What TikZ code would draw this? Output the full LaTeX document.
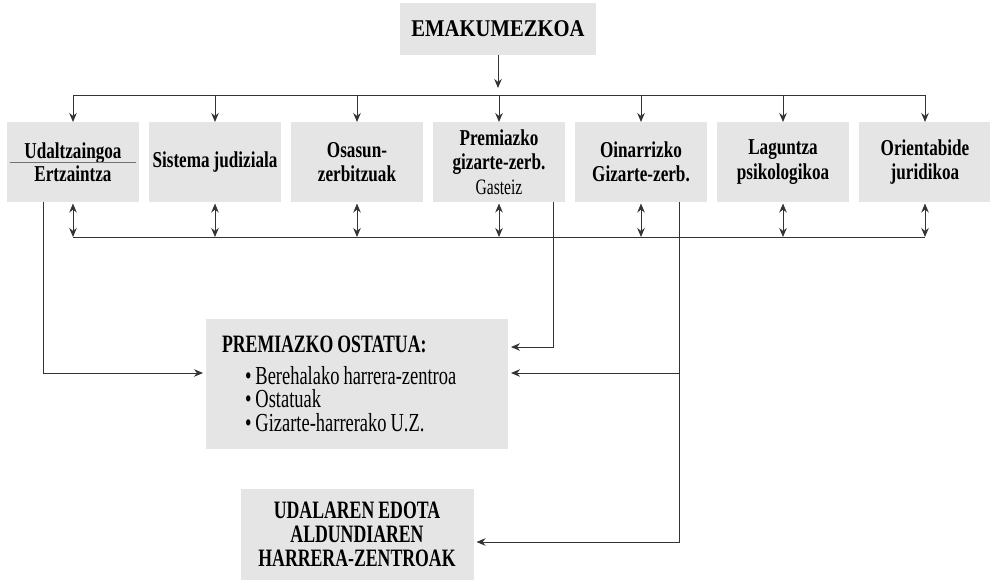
\documentclass[tikz,border=0pt]{standalone}
\usepackage{fontspec}
\setmainfont{Liberation Serif}[FakeStretch=0.755]
\newfontfamily\narrowfont{Liberation Serif}[FakeStretch=0.71]
\newfontfamily\broadfont{Liberation Serif}[FakeStretch=0.86]
\usetikzlibrary{
    arrows.meta,      % For arrow tip styles
    positioning       % For relative positioning (right=of ...)
}

\begin{document}
\begin{tikzpicture}[
    x=1pt, y=-1pt,
    node distance=10pt, % Gap between the service boxes
    % Define styles
    box/.style={rectangle, fill=gray!20, outer sep=0pt, execute at begin node={\spaceskip=4pt\relax}}, % Grey box, tight word spacing
    topbox/.style={box, minimum width=196pt, minimum height=52pt, font=\broadfont\fontsize{24}{28}\selectfont\bfseries}, % Starting point
    svcbox/.style={box, inner xsep=1pt, text width=130pt, minimum height=80pt, align=center, font=\fontsize{22.7}{24.5}\selectfont\bfseries}, % Service
    shelterbox/.style={box, inner xsep=16pt, text width=270pt, minimum height=130pt, align=left, font=\narrowfont\fontsize{26}{23.5}\selectfont}, % Emergency shelter
    centrebox/.style={box, minimum width=233pt, minimum height=91pt, align=center, font=\narrowfont\fontsize{25}{24}\selectfont\bfseries}, % Reception centres
    link/.style={draw=black!80, line width=0.9pt}, % Plain line
    arrow/.style={link, -{Stealth[length=9pt, width=7.5pt]}}, % Arrow style
    darrow/.style={link, {Stealth[length=9pt, width=7.5pt]}-{Stealth[length=9pt, width=7.5pt]}, shorten <=1.5pt} % Two-way arrow
]
\useasboundingbox (0,0) rectangle (990,580);

% ----- STARTING POINT -----
\node (in_emak) [topbox] at (498,29) {EMAKUMEZKOA};
\coordinate (emak_end) at (498,88);

% ----- SERVICE ROW -----
\node (svc_udal)    [svcbox] at (73,162) {Udaltzaingoa\\[-2pt]Ertzaintza};
\node (svc_judic)   [svcbox, right=of svc_udal] {Sistema judiziala};
\node (svc_osasun)  [svcbox, right=of svc_judic] {Osasun-\\zerbitzuak};
\node (svc_prem)    [svcbox, right=of svc_osasun] {Premiazko\\gizarte-zerb.\\{\mdseries\narrowfont\fontsize{22}{24.5}\selectfont Gasteiz}};
\node (svc_oinarri) [svcbox, right=of svc_prem] {Oinarrizko\\Gizarte-zerb.};
\node (svc_lagun)   [svcbox, right=of svc_oinarri] {Laguntza\\psikologikoa};
\node (svc_orient)  [svcbox, right=of svc_lagun] {Orientabide\\juridikoa};
\draw [link, draw=black!55] ([xshift=3pt]svc_udal.west) -- ([xshift=-3pt]svc_udal.east);

% ----- OUTCOMES -----
\node (out_ostatua) [shelterbox, below=117pt of svc_osasun] {{\bfseries\fontsize{25}{23.5}\selectfont PREMIAZKO OSTATUA:}\\[8pt]
    \hspace*{23pt}\textbullet\ Berehalako harrera-zentroa\\
    \hspace*{23pt}\textbullet\ Ostatuak\\
    \hspace*{23pt}\textbullet\ Gizarte-harrerako U.Z.};
\node (out_harrera) [centrebox, below=40pt of out_ostatua] {UDALAREN EDOTA\\ALDUNDIAREN\\HARRERA-ZENTROAK};

% Bus lines and connector ends
\coordinate (bus1_w) at (73,95);
\coordinate (bus1_e) at (925,95);
\coordinate (bus2_w) at (73,237);
\coordinate (bus2_e) at (925,237);
\coordinate (udal_out) at ([xshift=-30pt]svc_udal.south);
\coordinate (prem_out) at ([xshift=54pt]svc_prem.south);
\coordinate (oin_out)  at ([xshift=38pt]svc_oinarri.south);
\coordinate (ost_in_l)  at ([yshift=11pt]out_ostatua.west);
\coordinate (ost_in_r1) at ([yshift=37pt]out_ostatua.east);
\coordinate (ost_in_r2) at ([yshift=11pt]out_ostatua.east);
\coordinate (harr_in)   at ([yshift=-7.5pt]out_harrera.east);

% Draw arrows down to the services
\draw [arrow] (in_emak) -- (emak_end);
\draw [link] (bus1_w) -- (bus1_e);
\draw [arrow] (svc_udal.north |- bus1_w) -- (svc_udal);
\draw [arrow] (svc_judic.north |- bus1_w) -- (svc_judic);
\draw [arrow] (svc_osasun.north |- bus1_w) -- (svc_osasun);
\draw [arrow] (svc_prem.north |- bus1_w) -- (svc_prem);
\draw [arrow] (svc_oinarri.north |- bus1_w) -- (svc_oinarri);
\draw [arrow] (svc_lagun.north |- bus1_w) -- (svc_lagun);
\draw [arrow] (svc_orient.north |- bus1_w) -- (svc_orient);

% Two-way links between the services
\draw [link] (bus2_w) -- (bus2_e);
\draw [darrow] (svc_udal) -- (svc_udal.south |- bus2_w);
\draw [darrow] (svc_judic) -- (svc_judic.south |- bus2_w);
\draw [darrow] (svc_osasun) -- (svc_osasun.south |- bus2_w);
\draw [darrow] (svc_prem) -- (svc_prem.south |- bus2_w);
\draw [darrow] (svc_oinarri) -- (svc_oinarri.south |- bus2_w);
\draw [darrow] (svc_lagun) -- (svc_lagun.south |- bus2_w);
\draw [darrow] (svc_orient) -- (svc_orient.south |- bus2_w);

% Referrals to shelter and centres
\draw [arrow, shorten >=3pt] (udal_out) |- (ost_in_l);
\draw [arrow, shorten >=3pt] (prem_out) |- (ost_in_r1);
\draw [arrow, shorten >=3pt] (oin_out) |- (harr_in);
\draw [arrow, shorten >=3pt] (oin_out |- ost_in_r2) -- (ost_in_r2);

\end{tikzpicture}
\end{document}
